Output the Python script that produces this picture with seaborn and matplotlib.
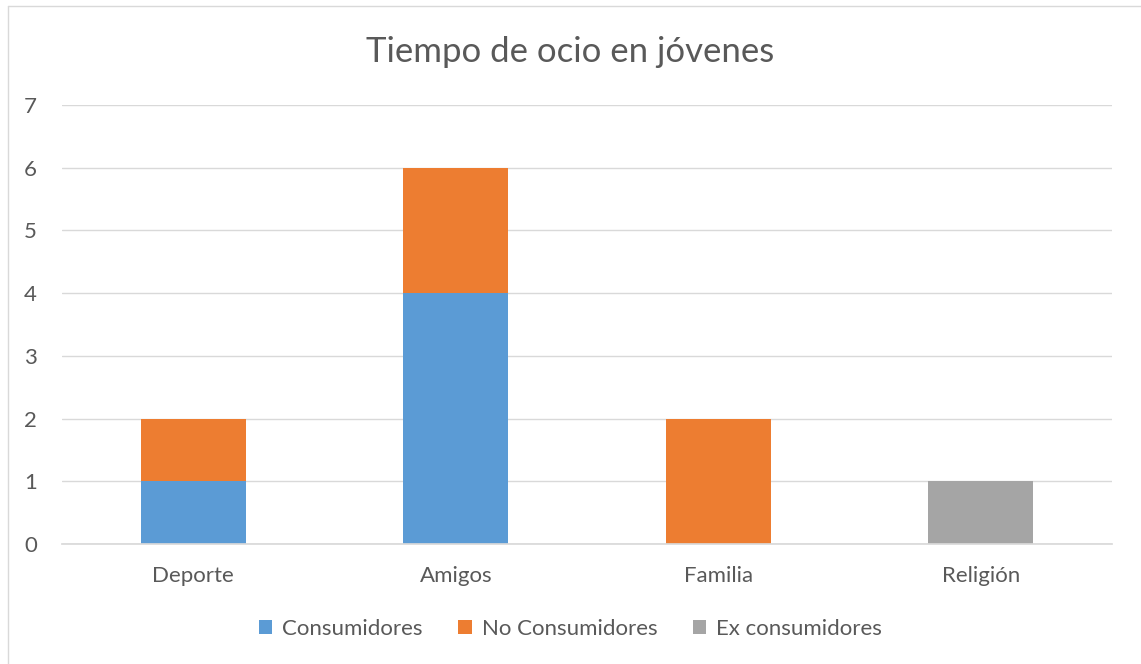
import matplotlib
matplotlib.use("Agg")
import matplotlib.pyplot as plt
import seaborn as sns
import pandas as pd
from matplotlib.patches import Patch
from matplotlib.lines import Line2D

categories = ["Deporte", "Amigos", "Familia", "Religión"]
consumidores = [1, 4, 0, 0]
no_consumidores = [1, 2, 2, 0]
ex_consumidores = [0, 0, 0, 1]
series_names = ["Consumidores", "No Consumidores", "Ex consumidores"]
colors = ["#5B9BD5", "#ED7D31", "#A5A5A5"]
yticks = [0, 1, 2, 3, 4, 5, 6, 7]
title = "Tiempo de ocio en jóvenes"

sns.set_theme(style="white")
plt.rcParams["font.family"] = ["Lato", "DejaVu Sans"]

W, H = 1141, 664
fig = plt.figure(figsize=(W/100, H/100), dpi=100)
ax = fig.add_axes([62/W, 1 - 544/H, (1112-62)/W, (544-105)/H])

lvl1 = consumidores
lvl2 = [a + b for a, b in zip(consumidores, no_consumidores)]
lvl3 = [a + b for a, b in zip(lvl2, ex_consumidores)]

for vals, col in zip([lvl3, lvl2, lvl1], [colors[2], colors[1], colors[0]]):
    df = pd.DataFrame({"cat": categories, "val": vals})
    sns.barplot(data=df, x="cat", y="val", color=col, width=0.4, ax=ax,
                saturation=1, linewidth=0, zorder=3)

ax.set_xlim(-0.5, 3.5)
ax.set_ylim(0, 7)
ax.set_yticks(yticks)
ax.yaxis.grid(True, color="#D9D9D9", linewidth=1, zorder=0)
ax.set_axisbelow(True)
for s in ["top", "right", "left"]:
    ax.spines[s].set_visible(False)
ax.spines["bottom"].set_color("#D9D9D9")
ax.spines["bottom"].set_zorder(4)
ax.tick_params(axis="both", length=0, labelsize=16, colors="#595959")
ax.tick_params(axis="x", pad=16)
ax.tick_params(axis="y", pad=18)
ax.set_xlabel("")
ax.set_ylabel("")

fig.text(0.5, 1 - 52/H, title, ha="center", va="center", fontsize=25,
         color="#595959")

handles = [Patch(facecolor=c, edgecolor="none") for c in colors]
fig.legend(handles, series_names, loc="center", bbox_to_anchor=(0.5, 1 - 629/H),
           ncol=3, frameon=False, fontsize=16, handlelength=0.6, handleheight=0.6,
           handletextpad=0.45, columnspacing=1.6, labelcolor="#595959")

# chart border (top and left edges visible)
fig.add_artist(Line2D([8/W, 8/W], [0, 1 - 6/H], transform=fig.transFigure,
                      color="#D9D9D9", linewidth=1))
fig.add_artist(Line2D([8/W, 1], [1 - 6/H, 1 - 6/H], transform=fig.transFigure,
                      color="#D9D9D9", linewidth=1))

fig.savefig("out.png", dpi=100)
